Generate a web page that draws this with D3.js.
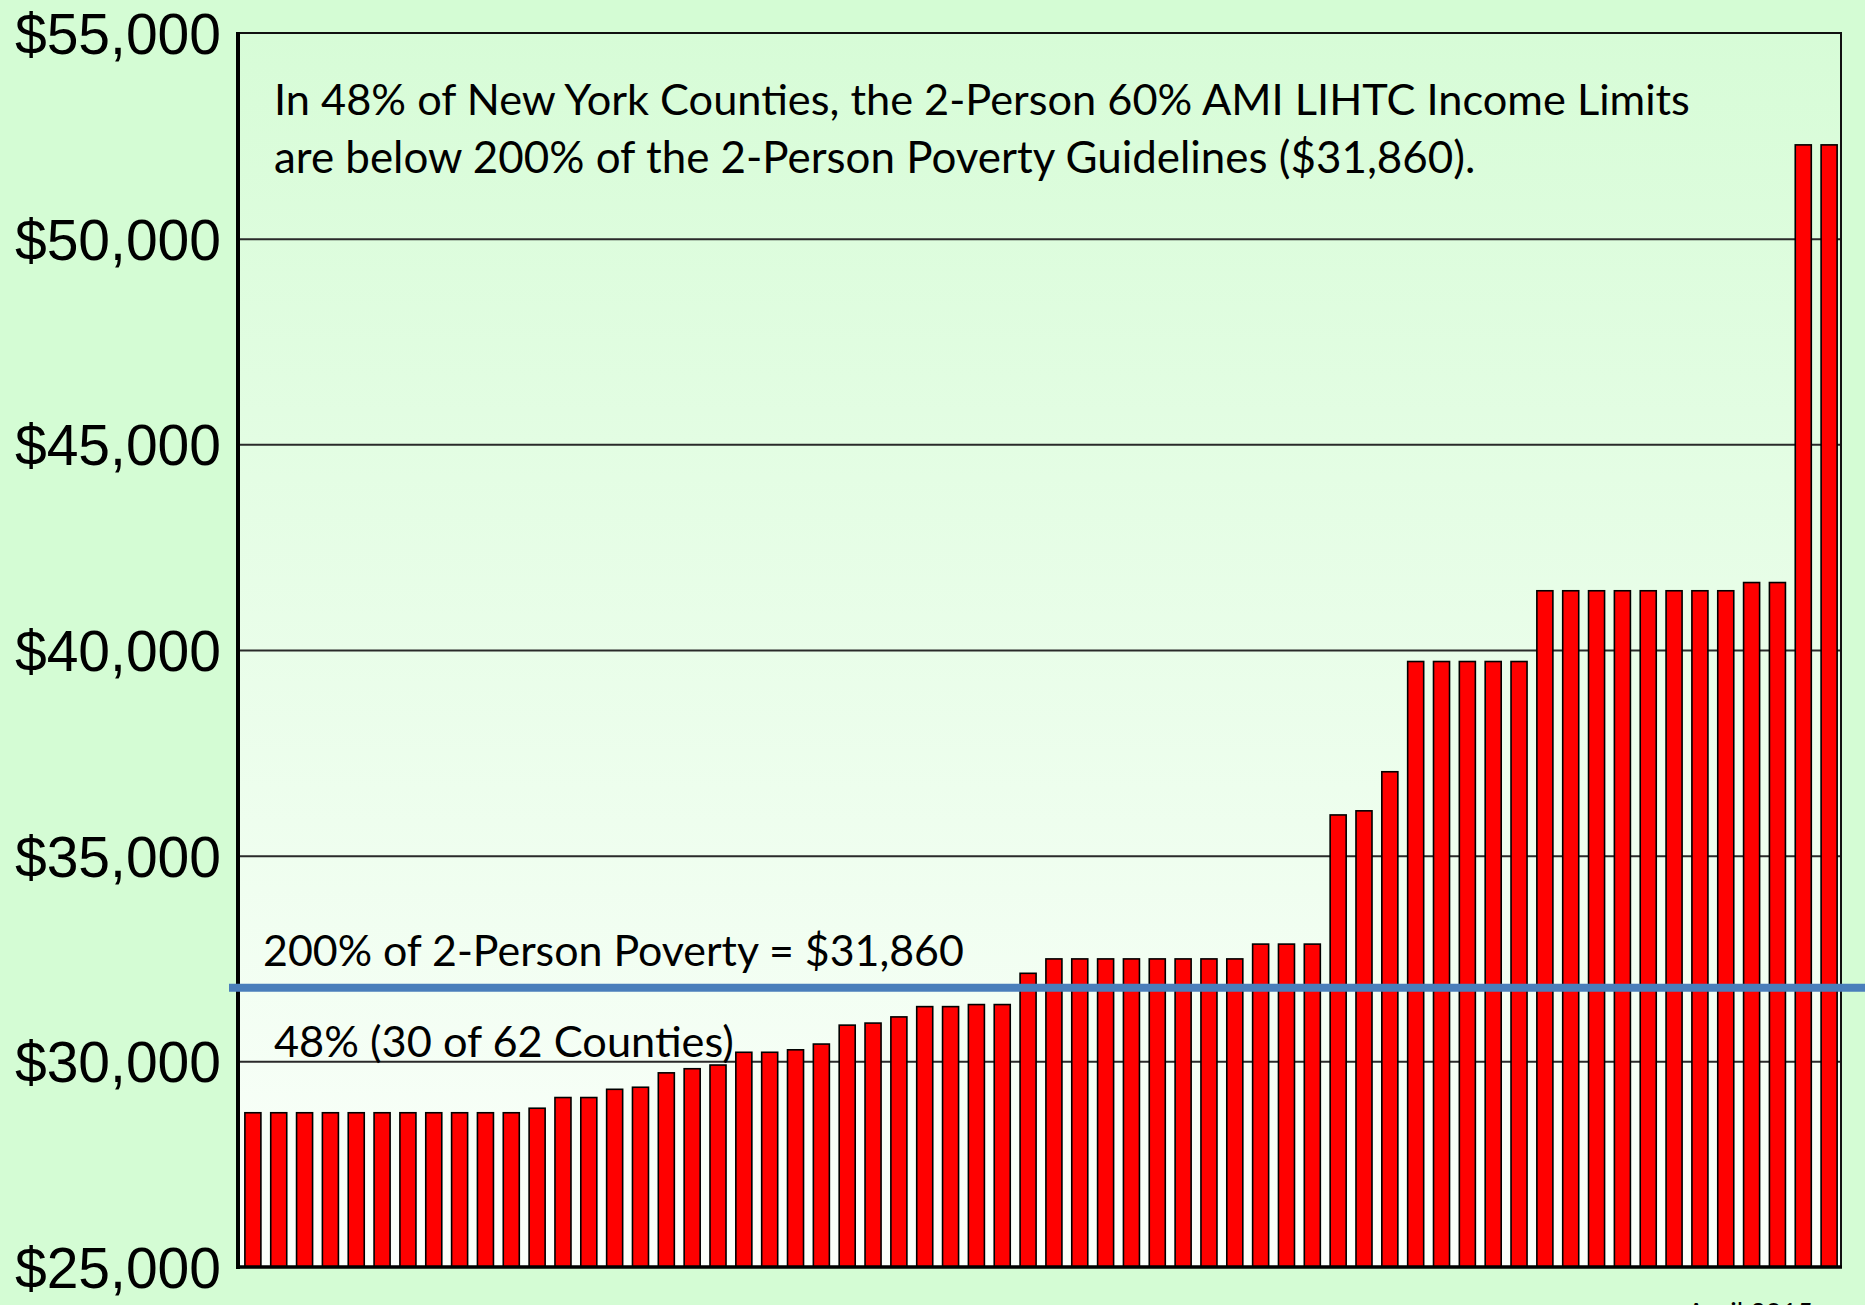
<!DOCTYPE html>
<html>
<head>
<meta charset="utf-8">
<script src="https://cdn.jsdelivr.net/npm/d3@7"></script>
<style>
  html, body { margin: 0; padding: 0; background: #d4fcd4; }
  svg { display: block; }
</style>
</head>
<body>
<svg id="chart"></svg>
<script>
// 2-person 60% AMI LIHTC income limits, one bar per county, sorted low to high
const incomeLimits = [
  28750, 28750, 28750, 28750, 28750, 28750, 28750, 28750, 28750, 28750, 28750,
  28860, 29120, 29120, 29320, 29370, 29720, 29820, 29910, 30220, 30220,
  30280, 30420, 30880, 30930, 31080, 31330, 31330, 31380, 31380,
  32140, 32490, 32490, 32490, 32490, 32490, 32490, 32490, 32490,
  32850, 32850, 32850, 35990, 36090, 37040,
  39720, 39720, 39720, 39720, 39720,
  41440, 41440, 41440, 41440, 41440, 41440, 41440, 41440,
  41640, 41640, 52280, 52280
]
const povertyLine = 31860
const yTicks = [25000, 30000, 35000, 40000, 45000, 50000, 55000]
const titleLines = [
  'In 48% of New York Counties, the 2-Person 60% AMI LIHTC Income Limits',
  'are below 200% of the 2-Person Poverty Guidelines ($31,860).'
]
const povertyLabel = '200% of 2-Person Poverty = $31,860'
const countLabel = '48% (30 of 62 Counties)'
const dateLabel = 'April 2015'

const width = 1865
const height = 1305
const plot = {left: 238, right: 1841, top: 33, bottom: 1267}

const svg = d3.select('#chart').attr('width', width).attr('height', height)

svg.append('rect').attr('width', width).attr('height', height).attr('fill', '#d4fcd4')

const grad = svg.append('defs').append('linearGradient')
  .attr('id', 'plotbg').attr('x1', 0).attr('y1', 0).attr('x2', 0).attr('y2', 1)
grad.append('stop').attr('offset', '0%').attr('stop-color', '#d7fcd7')
grad.append('stop').attr('offset', '100%').attr('stop-color', '#fbfffb')

const y = d3.scaleLinear().domain([25000, 55000]).range([plot.bottom, plot.top])
const x = d3.scaleBand()
  .domain(d3.range(incomeLimits.length))
  .range([plot.left + 3, plot.right])
  .paddingInner(0.38)
  .paddingOuter(0.15)

svg.append('rect')
  .attr('x', plot.left).attr('y', plot.top)
  .attr('width', plot.right - plot.left).attr('height', plot.bottom - plot.top)
  .attr('fill', 'url(#plotbg)')

// gridlines
const grid = svg.append('g')
  .attr('transform', 'translate(' + plot.left + ',0)')
  .call(d3.axisLeft(y).tickValues(yTicks.slice(1, -1)).tickSize(-(plot.right - plot.left)).tickFormat(''))
grid.select('.domain').remove()
grid.selectAll('line').attr('stroke', '#2a2a2a').attr('stroke-width', 2)

// y labels
const yAxis = svg.append('g')
  .attr('transform', 'translate(221,0)')
  .call(d3.axisLeft(y).tickValues(yTicks).tickSize(0).tickPadding(0).tickFormat(d3.format('$,')))
yAxis.select('.domain').remove()
yAxis.selectAll('text')
  .attr('font-family', '"Liberation Sans", Arial, sans-serif')
  .attr('font-size', 57)
  .attr('fill', '#000')
  .attr('dy', '0.36em')

// bars
svg.append('g').selectAll('rect')
  .data(incomeLimits)
  .enter()
  .append('rect')
  .attr('x', (d, i) => x(i))
  .attr('y', (d) => y(d))
  .attr('width', x.bandwidth())
  .attr('height', (d) => y(25000) - y(d))
  .attr('fill', '#ff0000')
  .attr('stroke', '#000')
  .attr('stroke-width', 1.6)

// frame
svg.append('rect')
  .attr('x', plot.left).attr('y', plot.top)
  .attr('width', plot.right - plot.left).attr('height', plot.bottom - plot.top)
  .attr('fill', 'none').attr('stroke', '#111').attr('stroke-width', 2)
svg.append('line')
  .attr('x1', plot.left).attr('x2', plot.left).attr('y1', plot.top - 1).attr('y2', plot.bottom + 2)
  .attr('stroke', '#000').attr('stroke-width', 4)
svg.append('line')
  .attr('x1', plot.left).attr('x2', plot.right + 1).attr('y1', plot.bottom).attr('y2', plot.bottom)
  .attr('stroke', '#000').attr('stroke-width', 3.5)

// poverty threshold line (drawn a touch below the value, as in the original slide)
svg.append('line')
  .attr('x1', 229).attr('x2', width)
  .attr('y1', y(povertyLine) + 3).attr('y2', y(povertyLine) + 3)
  .attr('stroke', '#4a7ebb').attr('stroke-width', 8)

const font = 'Lato, "Open Sans", sans-serif'
const fitText = (sel, target) => {
  const w = sel.node().getComputedTextLength()
  const size = +sel.attr('font-size') * target / w
  sel.attr('font-size', size)
  return size
}

const t1 = svg.append('text').attr('x', 274).attr('y', 115)
  .attr('font-family', font).attr('font-size', 45).attr('fill', '#000').text(titleLines[0])
fitText(t1, 1416)
const t2 = svg.append('text').attr('x', 274).attr('y', 173)
  .attr('font-family', font).attr('font-size', 45).attr('fill', '#000').text(titleLines[1])
fitText(t2, 1202)

const pl = svg.append('text').attr('x', 263).attr('y', 965.5)
  .attr('font-family', font).attr('font-size', 45).attr('fill', '#000').text(povertyLabel)
fitText(pl, 701)

const cl = svg.append('text').attr('x', 274).attr('y', 1057)
  .attr('font-family', font).attr('font-size', 45).attr('fill', '#000').text(countLabel)
fitText(cl, 460)

// date stamp sits partly below the bottom edge, as in the original
const dl = svg.append('text').attr('x', 1687).attr('y', 1322)
  .attr('font-family', font).attr('font-size', 30).attr('fill', '#000').text(dateLabel)
fitText(dl, 126)
</script>
</body>
</html>
